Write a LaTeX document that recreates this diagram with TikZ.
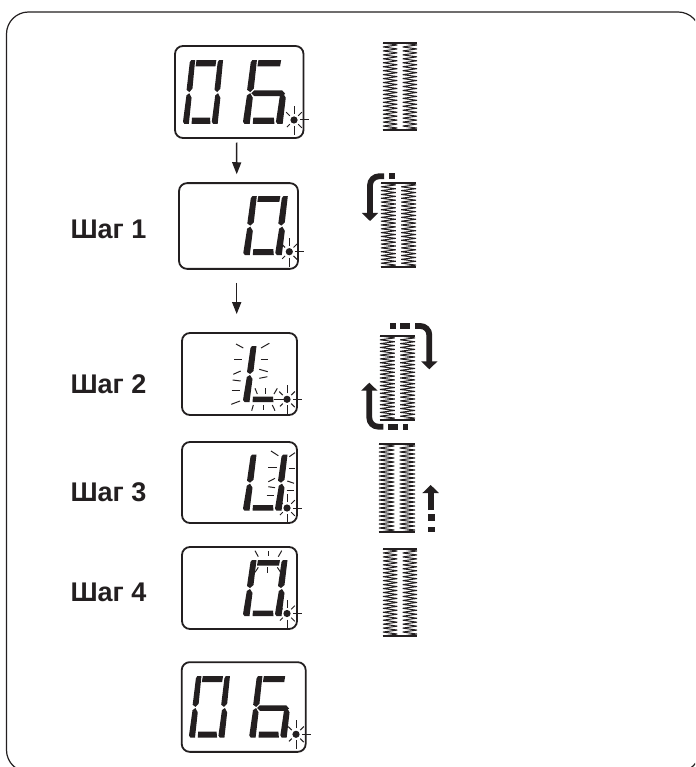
\documentclass[tikz,border=0pt]{standalone}
\usepackage{fontspec}
\setmainfont{Liberation Sans}
\usepackage{xcolor}
\definecolor{lcdink}{HTML}{231F20}
\usetikzlibrary{positioning,arrows.meta}
\tikzset{
  lcdbox/.style={draw=lcdink, line width=1.8pt, rounded corners=8pt, inner sep=0pt, fill=white},
  lcdseg/.style={fill=lcdink},
  blink/.style={draw=lcdink, line width=1pt},
  steplabel/.style={font=\bfseries\fontsize{27}{27}\selectfont, text=lcdink, inner sep=0pt},
  stitch/.style={draw=lcdink, line width=1pt, line join=bevel},
  flowarrow/.style={draw=lcdink, line width=1.5pt, -{Triangle[length=12pt,width=9pt]}},
  thickarrow/.style={draw=lcdink, line width=5.8pt, rounded corners=9pt, -{Triangle[length=8pt,width=16pt]}}
}
\newcommand{\lcda}{\fill[lcdseg] (15,-56) -- (37,-56) -- (36,-50.5) -- (14,-50.5) -- cycle;}
\newcommand{\lcdb}{\fill[lcdseg] (35,-30) -- (38.5,-54) -- (40,-56) -- (44.5,-56) -- (41.5,-31) -- (38,-28) -- cycle;}
\newcommand{\lcdc}{\fill[lcdseg] (32,-2) -- (33.5,0) -- (38.5,0) -- (41.5,-23) -- (39,-27) -- (35.8,-25) -- cycle;}
\newcommand{\lcdd}{\fill[lcdseg] (10,-5.5) -- (30,-5.5) -- (30.5,0) -- (9.5,0) -- cycle;}
\newcommand{\lcde}{\fill[lcdseg] (0,-2) -- (1.5,0) -- (6.5,0) -- (9.5,-23) -- (7,-27) -- (3.8,-25) -- cycle;}
\newcommand{\lcdf}{\fill[lcdseg] (4,-30) -- (7.5,-54) -- (9,-56) -- (13.5,-56) -- (10.5,-31) -- (7,-28) -- cycle;}
\newcommand{\lcdg}{\fill[lcdseg] (8,-27) -- (11,-29.5) -- (38,-29.5) -- (41,-26.5) -- (38,-24.5) -- (11,-24.5) -- cycle;}
\newcommand{\lcddigit}[5]{%
  \begin{scope}[shift={(#1,#2)}, xscale=#3, yscale=#4]
    \foreach \s in {#5} {\csname lcd\s\endcsname}
  \end{scope}}
\newcommand{\blinkdot}[2]{%
  \begin{scope}[shift={(#1,#2)}]
    \fill[lcdseg] (0,0) circle (3.6);
    \foreach \a/\r in {90/15,45/11,0/15,-45/11,-90/14,-135/11,135/10}
      \draw[blink] (\a:6) -- (\a:\r);
  \end{scope}}
\newcommand{\stitchbank}[4]{%
  \pgfmathsetmacro{\bankmid}{(#1+#3)/2}
  \draw[stitch] plot[domain=0:44, samples=45] ({#1+(\bankmid-2.6-(#1))*mod(\x,2)}, {#2+(#4-(#2))*\x/44});
  \draw[stitch] plot[domain=0:44, samples=45] ({\bankmid+2.6+(#3-\bankmid-2.6)*mod(\x,2)}, {#2+(#4-(#2))*\x/44});
  \draw[stitch, line width=1.8pt] (#1,#2) -- (#3,#2);
  \draw[stitch, line width=1.8pt] (#1,#4) -- (#3,#4);}

\begin{document}
\begin{tikzpicture}[x=1pt, y=-1pt]
  \useasboundingbox (0,0) rectangle (695,767);
  \clip (0,0) rectangle (695,767);
  \fill[white] (0,0) rectangle (695,767);
  \draw[draw=lcdink, line width=1.2pt, rounded corners=22pt] (6.5,12) rectangle (700,772);

  \node[lcdbox, minimum width=128.5pt, minimum height=92pt] (lcdstart) at (239.25,92) {};
  \node[lcdbox, minimum width=119pt, minimum height=85.7pt] (lcdone) at (238.5,226) {};
  \node[lcdbox, minimum width=115pt, minimum height=82pt] (lcdtwo) at (239.5,374) {};
  \node[lcdbox, minimum width=115pt, minimum height=81pt] (lcdthree) at (239.5,482.5) {};
  \node[lcdbox, minimum width=115pt, minimum height=82pt] (lcdfour) at (239.5,588) {};
  \node[lcdbox, minimum width=124pt, minimum height=89.7pt] (lcdend) at (243.7,707) {};

  \node[steplabel] (labone) at (108.5,229) {Шаг 1};
  \node[steplabel] (labtwo) at (108.5,384) {Шаг 2};
  \node[steplabel] (labthree) at (108.5,492) {Шаг 3};
  \node[steplabel] (labfour) at (108.5,592) {Шаг 4};

  \draw[flowarrow, shorten <=3.7pt, shorten >=8pt] ([xshift=-2.5pt]lcdstart.south) -- ([xshift=-1.8pt]lcdone.north);
  \draw[flowarrow, shorten <=13pt, shorten >=18pt] ([xshift=-1.8pt]lcdone.south) -- ([xshift=-2.8pt]lcdtwo.north);

  \lcddigit{183}{124}{0.9}{1.14}{a,b,c,d,e,f}
  \lcddigit{243}{124}{1.03}{1.14}{a,c,d,e,f,g}
  \blinkdot{294}{120}
  \lcddigit{243.3}{255}{1}{1.05}{a,b,c,d,e,f}
  \blinkdot{289.3}{251.7}
  \lcddigit{243}{402}{1}{1}{d,e,f}
  \blinkdot{287}{399.3}
  \lcddigit{243}{510.7}{1}{1}{b,c,d,e,f}
  \blinkdot{287}{508}
  \lcddigit{243}{616}{1}{1}{a,b,c,d,e,f}
  \blinkdot{287}{613.5}
  \lcddigit{189}{737.7}{0.92}{1.1}{a,b,c,d,e,f}
  \lcddigit{249.3}{737.7}{0.97}{1.1}{a,c,d,e,f,g}
  \blinkdot{296}{734.3}

  \foreach \xa/\ya/\xb/\yb in {236/344/243.3/348, 261/348/269.3/343.3, 234/359.3/242/359.3, 260.7/359.3/268.3/359.3,
      233.3/374.3/240.7/371, 259.3/369.3/267.7/371.7, 232.7/380/240.7/381, 259.3/378.3/267.3/376.7,
      231.7/390.3/240/390.3, 231.3/404.3/240/401, 255/388.3/257.3/394, 265/388.3/265/394, 277.3/388.3/274/394,
      253.3/405/251.7/410.7, 263.3/405/263.3/410, 272.3/405/275/410.7, 274/399.3/284/399.3,
      271/451/278.3/455.7, 289.3/456.7/295/452.7, 268.3/467/276.7/467, 289/468.3/295/468.3,
      268.3/481.7/275/478.3, 287.3/481/294/483.3, 268.3/486.7/275/487.7, 286.7/490/294/490, 266.7/495/274.3/495,
      255/550.7/258.3/556.7, 268.3/551/268.3/556, 281.7/550.7/278.3/556.7,
      258.3/567.3/255/572.3, 267.7/567.3/267.7/572.7, 277.3/567.3/280.7/572.3}
    \draw[blink] (\xa,\ya) -- (\xb,\yb);

  \stitchbank{383}{43}{417}{130}
  \stitchbank{381}{183}{416}{267}
  \stitchbank{380}{336}{415}{420}
  \stitchbank{379}{444}{415}{532}
  \stitchbank{383}{549}{417}{636}

  \coordinate (turnonea) at (384,176.3);
  \coordinate (turnoneb) at (370,221);
  \draw[thickarrow] (turnonea) -| (turnoneb);
  \fill[lcdseg] (389,173.5) rectangle (395,179.5);

  \coordinate (turntwoa) at (415,326);
  \coordinate (turntwob) at (429.3,369.3);
  \draw[thickarrow] (turntwoa) -| (turntwob);
  \fill[lcdseg] (390,323) rectangle (396,329);
  \fill[lcdseg] (400,323) rectangle (410,329);

  \coordinate (turnthreea) at (383.3,426.7);
  \coordinate (turnthreeb) at (369.3,382.7);
  \draw[thickarrow] (turnthreea) -| (turnthreeb);
  \fill[lcdseg] (388.3,424) rectangle (398.3,430);
  \fill[lcdseg] (403.3,424) rectangle (408.3,430);

  \coordinate (riseonea) at (430.7,510);
  \coordinate (riseoneb) at (430.7,485);
  \draw[thickarrow] (riseonea) -- (riseoneb);
  \fill[lcdseg] (427.5,514) rectangle (435,520.7);
  \fill[lcdseg] (427.5,527.3) rectangle (435,531.7);
\end{tikzpicture}
\end{document}
